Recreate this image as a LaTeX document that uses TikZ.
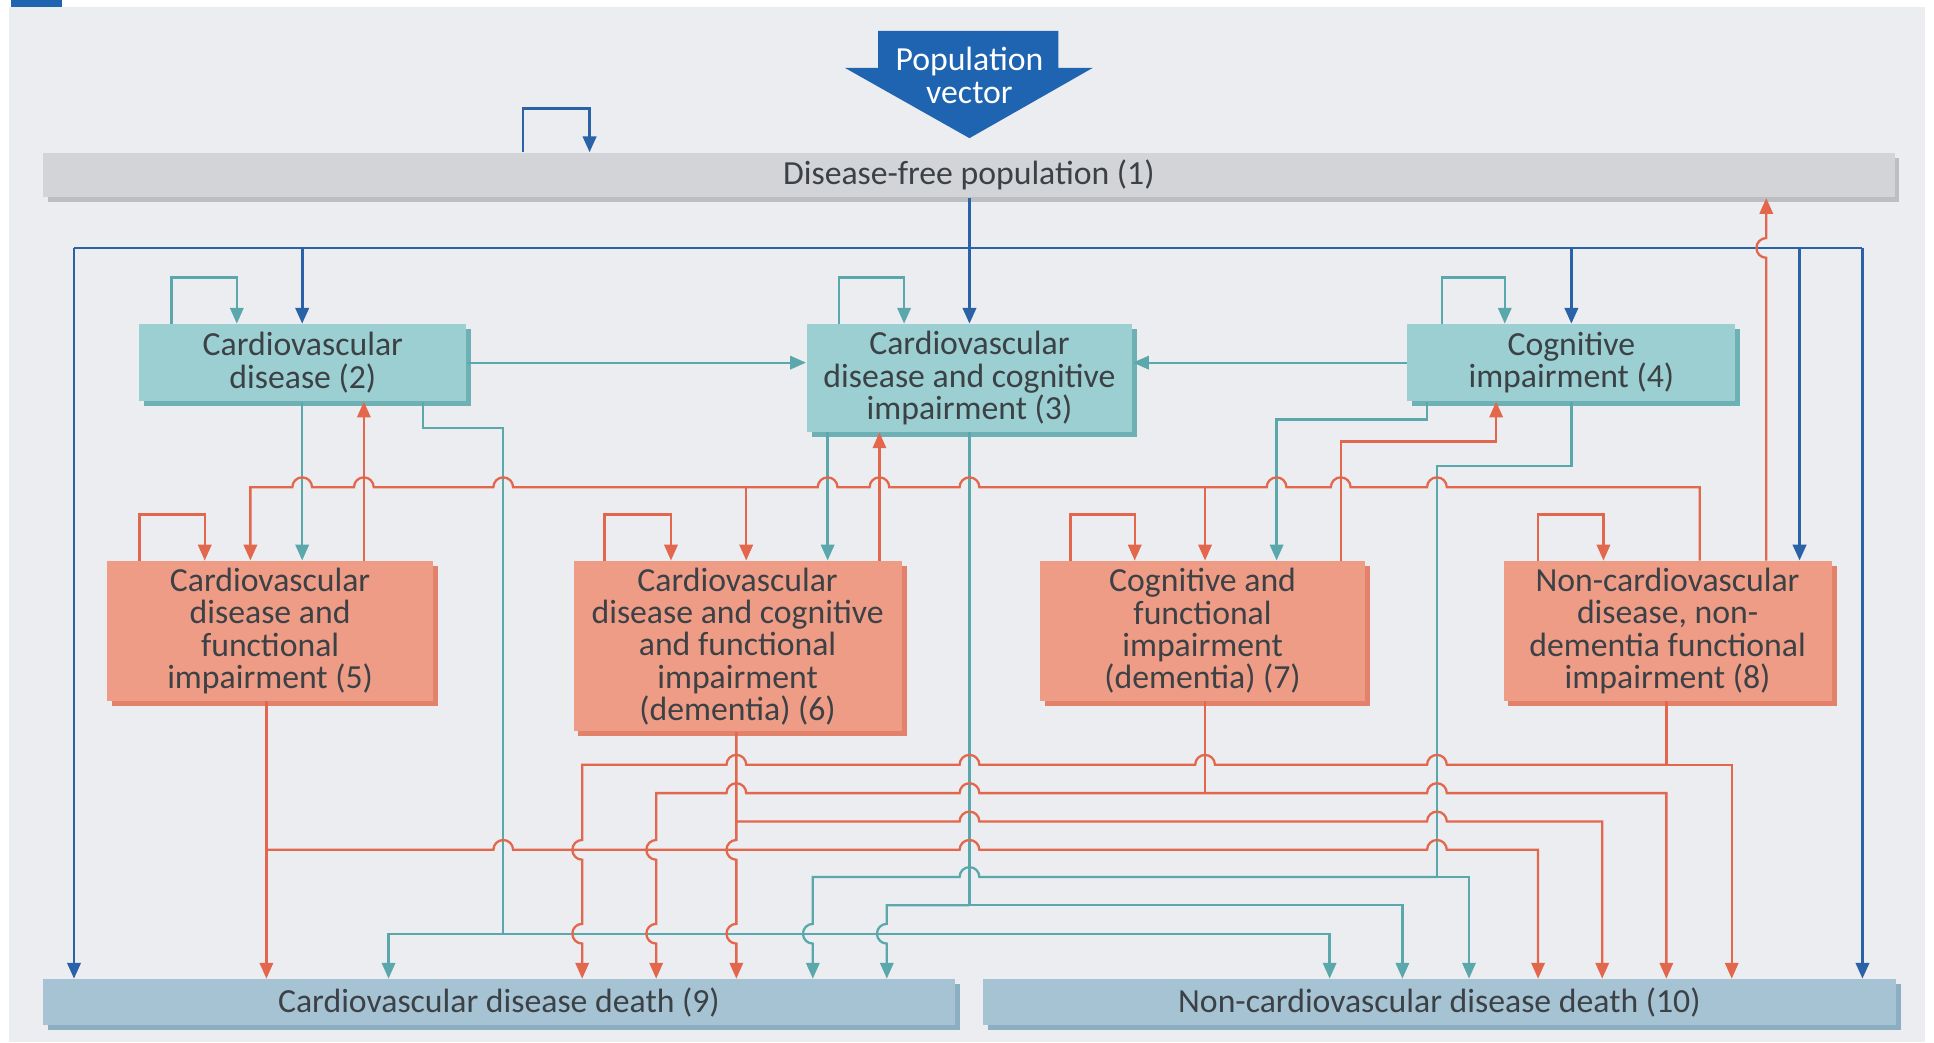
\documentclass[tikz,border=0pt]{standalone}
\usepackage{fontspec}
\setmainfont{Carlito}
\usetikzlibrary{arrows.meta,shadows}
\definecolor{bgc}{HTML}{ECEDF1}
\definecolor{tabc}{HTML}{1F64B0}
\definecolor{pvc}{HTML}{1F64B0}
\definecolor{txt}{HTML}{3C4146}
\definecolor{greyF}{HTML}{D2D4D7}
\definecolor{greyS}{HTML}{BCBEC1}
\definecolor{tealF}{HTML}{9BCFD1}
\definecolor{tealS}{HTML}{6DB1B5}
\definecolor{redF}{HTML}{EE9C85}
\definecolor{redS}{HTML}{E3826A}
\definecolor{deathF}{HTML}{A6C3D3}
\definecolor{deathS}{HTML}{8CAEC2}
\definecolor{blueL}{HTML}{2A62A8}
\definecolor{tealL}{HTML}{5AA8AB}
\definecolor{redL}{HTML}{E2674C}
\newcommand\boxfont{\fontsize{9.6pt}{9.2pt}\selectfont}
\tikzset{
  bx/.style={rectangle, inner sep=0pt, align=center, text=txt, font=\boxfont},
  greybox/.style={bx, fill=greyF, general shadow={shadow xshift=1.4pt, shadow yshift=-1.4pt, fill=greyS}},
  tealbox/.style={bx, fill=tealF, general shadow={shadow xshift=1.4pt, shadow yshift=-1.4pt, fill=tealS}},
  redbox/.style={bx, fill=redF, general shadow={shadow xshift=1.4pt, shadow yshift=-1.4pt, fill=redS}},
  deathbox/.style={bx, fill=deathF, general shadow={shadow xshift=1.4pt, shadow yshift=-1.4pt, fill=deathS}},
  bl/.style={draw=blueL, line width=0.8pt},
  tl/.style={draw=tealL, line width=0.65pt},
  rl/.style={draw=redL, line width=0.65pt},
  arr/.style={-{Triangle[length=4.5pt,width=3.8pt]}},
}
\begin{document}
\begin{tikzpicture}[x=0.351pt, y=0.351pt]
\useasboundingbox (0,0) rectangle (1568,-845);
\fill[white] (0,0) rectangle (1568,-845);
\fill[bgc] (7,-6) rectangle (1561,-845);
\fill[tabc] (9,0) rectangle (50,-6);

% population vector
\fill[pvc] (712,-25) -- (858,-25) -- (858,-55) -- (886,-55) -- (786,-112) -- (685,-55) -- (712,-55) -- cycle;
\node[font=\boxfont, text=white, align=center, inner sep=0pt] (pv) at (786,-61) {Population\\vector};

% boxes
\node[greybox, minimum width=1501*0.351pt, minimum height=36*0.351pt] (b1) at (785.5,-142) {Disease-free population (1)};
\node[tealbox, minimum width=265*0.351pt, minimum height=62*0.351pt] (b2) at (245.5,-294) {Cardiovascular\\disease (2)};
\node[tealbox, minimum width=264*0.351pt, minimum height=87*0.351pt] (b3) at (786,-306.5) {Cardiovascular\\disease and cognitive\\impairment (3)};
\node[tealbox, minimum width=266*0.351pt, minimum height=62*0.351pt] (b4) at (1274,-294) {Cognitive\\impairment (4)};
\node[redbox, minimum width=264*0.351pt, minimum height=113*0.351pt] (b5) at (219,-511.5) {Cardiovascular\\disease and\\functional\\impairment (5)};
\node[redbox, minimum width=266*0.351pt, minimum height=138*0.351pt] (b6) at (598,-524) {Cardiovascular\\disease and cognitive\\and functional\\impairment\\(dementia) (6)};
\node[redbox, minimum width=264*0.351pt, minimum height=113*0.351pt] (b7) at (975,-511.5) {Cognitive and\\functional\\impairment\\(dementia) (7)};
\node[redbox, minimum width=266*0.351pt, minimum height=113*0.351pt] (b8) at (1352,-511.5) {Non-cardiovascular\\disease, non-\\dementia functional\\impairment (8)};
\node[deathbox, minimum width=739*0.351pt, minimum height=37*0.351pt] (b9) at (404.5,-812.5) {Cardiovascular disease death (9)};
\node[deathbox, minimum width=740*0.351pt, minimum height=37*0.351pt] (b10) at (1167,-812.5) {Non-cardiovascular disease death (10)};

% ---------- blue ----------
\coordinate (bus) at (786,-201);
\draw[bl,arr] (424,0|-b1.north) |- (478,-88) -- (478,0|-b1.north);
\draw[bl,arr] (786,0|-b1.south) -- (786,0|-b3.north);
\draw[bl] (60,0|-bus) -- (1510,0|-bus);
\draw[bl,arr] (60,0|-bus) -- (60,0|-b9.north);
\draw[bl,arr] (245,0|-bus) -- (245,0|-b2.north);
\draw[bl,arr] (1274,0|-bus) -- (1274,0|-b4.north);
\draw[bl,arr] (1459,0|-bus) -- (1459,0|-b8.north);
\draw[bl,arr] (1510,0|-bus) -- (1510,0|-b10.north);

% ---------- teal ----------
\draw[tl,arr] (139,0|-b2.north) |- (192,-225) -- (192,0|-b2.north);
\draw[tl,arr] (680,0|-b3.north) |- (733,-225) -- (733,0|-b3.north);
\draw[tl,arr] (1169,0|-b4.north) |- (1220,-225) -- (1220,0|-b4.north);
\draw[tl,arr] (b2.east) -- (b2.east -| b3.west);
\draw[tl,arr] (b4.west) -- (b4.west -| b3.east);
\draw[tl,arr] (245,0|-b2.south) -- (245,0|-b5.north);
\draw[tl,arr] (671,0|-b3.south) -- (671,0|-b6.north);
\draw[tl,arr] (1157,0|-b4.south) |- (1035,-340) -- (1035,0|-b7.north);
% box 2 to deaths
\draw[tl,arr] (343,0|-b2.south) |- (408,-347) |- (315,-757) -- (315,0|-b9.north);
\draw[tl,arr] (408,-757) -| (1078,0|-b10.north);
% box 3 to deaths
\draw[tl] (786,0|-b3.south) -- (786,-734);
\draw[tl,arr] (786,-734) -- (719,-734) -- (719,-749) arc[start angle=90,end angle=270,radius=8] -- (719,0|-b9.north);
\draw[tl,arr] (786,-734) -| (1137,0|-b10.north);
% box 4 to deaths
\draw[tl] (1274,0|-b4.south) |- (1165,-378) -- (1165,-711);
\draw[tl,arr] (1165,-711) -- (794,-711) arc[start angle=0,end angle=180,radius=8] -- (659,-711) -- (659,-749) arc[start angle=90,end angle=270,radius=8] -- (659,0|-b9.north);
\draw[tl,arr] (1165,-711) -| (1191,0|-b10.north);

% ---------- red ----------
\draw[rl,arr] (113,0|-b5.north) |- (166,-417) -- (166,0|-b5.north);
\draw[rl,arr] (490,0|-b6.north) |- (544,-417) -- (544,0|-b6.north);
\draw[rl,arr] (868,0|-b7.north) |- (920,-417) -- (920,0|-b7.north);
\draw[rl,arr] (1247,0|-b8.north) |- (1300,-417) -- (1300,0|-b8.north);
% red bus from box 8
\draw[rl,arr] (1378,0|-b8.north) -- (1378,-395)
  -- (1173,-395) arc[start angle=0,end angle=180,radius=8]
  -- (1095,-395) arc[start angle=0,end angle=180,radius=8]
  -- (1043,-395) arc[start angle=0,end angle=180,radius=8]
  -- (794,-395) arc[start angle=0,end angle=180,radius=8]
  -- (721,-395) arc[start angle=0,end angle=180,radius=8]
  -- (679,-395) arc[start angle=0,end angle=180,radius=8]
  -- (416,-395) arc[start angle=0,end angle=180,radius=8]
  -- (303,-395) arc[start angle=0,end angle=180,radius=8]
  -- (253,-395) arc[start angle=0,end angle=180,radius=8]
  -- (203,-395) -- (203,0|-b5.north);
\draw[rl,arr] (605,-395) -- (605,0|-b6.north);
\draw[rl,arr] (977,-395) -- (977,0|-b7.north);
% upward transitions
\draw[rl,arr] (295,0|-b5.north) -- (295,0|-b2.south);
\draw[rl,arr] (713,0|-b6.north) -- (713,0|-b3.south);
\draw[rl,arr] (1087,0|-b7.north) |- (1213,-358) -- (1213,0|-b4.south);
\draw[rl,arr] (1432,0|-b8.north) -- (1432,-209) arc[start angle=270,end angle=90,radius=8] -- (1432,0|-b1.south);
% box 5 to deaths
\draw[rl,arr] (216,0|-b5.south) -- (216,0|-b9.north);
\draw[rl,arr] (216,-689) -- (400,-689) arc[start angle=180,end angle=0,radius=8]
  -- (778,-689) arc[start angle=180,end angle=0,radius=8]
  -- (1157,-689) arc[start angle=180,end angle=0,radius=8]
  -- (1247,-689) -- (1247,0|-b10.north);
% box 6 to deaths
\draw[rl,arr] (597,0|-b6.south) -- (597,-681) arc[start angle=90,end angle=270,radius=8]
  -- (597,-749) arc[start angle=90,end angle=270,radius=8] -- (597,0|-b9.north);
\draw[rl,arr] (597,-666) -- (778,-666) arc[start angle=180,end angle=0,radius=8]
  -- (1157,-666) arc[start angle=180,end angle=0,radius=8]
  -- (1299,-666) -- (1299,0|-b10.north);
% box 7 to deaths
\draw[rl] (977,0|-b7.south) -- (977,-643);
\draw[rl,arr] (977,-643) -- (794,-643) arc[start angle=0,end angle=180,radius=8]
  -- (605,-643) arc[start angle=0,end angle=180,radius=8]
  -- (532,-643) -- (532,-681) arc[start angle=90,end angle=270,radius=8]
  -- (532,-749) arc[start angle=90,end angle=270,radius=8] -- (532,0|-b9.north);
\draw[rl,arr] (977,-643) -- (1157,-643) arc[start angle=180,end angle=0,radius=8]
  -- (1351,-643) -- (1351,0|-b10.north);
% box 8 to deaths
\draw[rl] (1351,0|-b8.south) -- (1351,-620);
\draw[rl,arr] (1351,-620) -- (1173,-620) arc[start angle=0,end angle=180,radius=8]
  -- (985,-620) arc[start angle=0,end angle=180,radius=8]
  -- (794,-620) arc[start angle=0,end angle=180,radius=8]
  -- (605,-620) arc[start angle=0,end angle=180,radius=8]
  -- (472,-620) -- (472,-681) arc[start angle=90,end angle=270,radius=8]
  -- (472,-749) arc[start angle=90,end angle=270,radius=8] -- (472,0|-b9.north);
\draw[rl,arr] (1351,-620) -- (1404,-620) -- (1404,0|-b10.north);
\end{tikzpicture}
\end{document}
